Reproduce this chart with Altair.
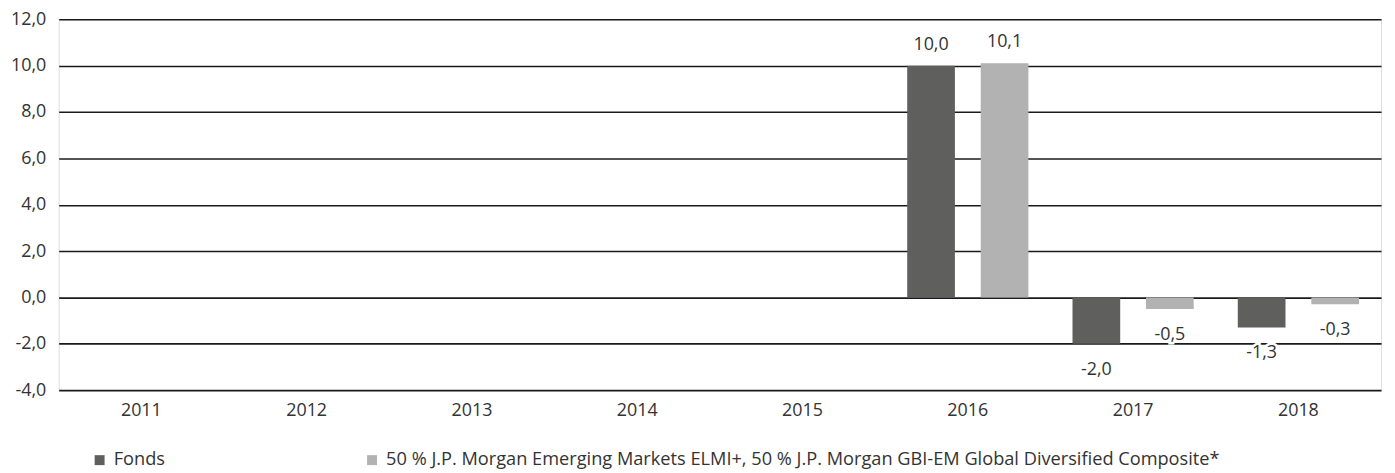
import altair as alt
import pandas as pd

years = ["2011", "2012", "2013", "2014", "2015", "2016", "2017", "2018"]
series = ["Fonds",
          "50 % J.P. Morgan Emerging Markets ELMI+, 50 % J.P. Morgan GBI-EM Global Diversified Composite*"]
data_years = ["2016", "2017", "2018"]
fonds = [10.0, -2.0, -1.3]
bench = [10.1, -0.5, -0.3]
colors = ["#5f5f5e", "#b2b2b2"]

rows = []
for y, f, b in zip(data_years, fonds, bench):
    rows.append({"Jahr": y, "Serie": series[0], "Wert": f})
    rows.append({"Jahr": y, "Serie": series[1], "Wert": b})
df = pd.DataFrame(rows)
df["Label"] = df["Wert"].map(lambda v: f"{v:.1f}".replace(".", ","))

FONT = "Open Sans"
FS = 18
TXT = "#333333"

x = alt.X("Jahr:N", scale=alt.Scale(domain=years, paddingInner=0, paddingOuter=0),
          axis=alt.Axis(title=None, labelAngle=0, ticks=False, domain=False, grid=False,
                        labelPadding=12, labelFontSize=FS, labelColor=TXT, labelFont=FONT))
xoff = alt.XOffset("Serie:N", scale=alt.Scale(domain=series, paddingInner=0.351, paddingOuter=0.3))
y = alt.Y("Wert:Q", scale=alt.Scale(domain=[-4, 12], nice=False, zero=False),
          axis=alt.Axis(title=None, values=[-4, -2, 0, 2, 4, 6, 8, 10, 12], ticks=False, domain=False,
                        grid=True, gridColor="#1a1a1a", gridWidth=1.6, labelPadding=13,
                        labelFontSize=FS, labelColor=TXT, labelFont=FONT,
                        labelExpr="replace(replace(format(datum.value, '.1f'), '.', ','), '\u2212', '-')"))

base = alt.Chart(df)

bars = base.mark_bar().encode(
    x=x, xOffset=xoff, y=y,
    color=alt.Color("Serie:N", scale=alt.Scale(domain=series, range=colors),
                    legend=alt.Legend(title=None, orient="none", legendX=32, legendY=434,
                                      direction="horizontal", symbolType="square", symbolSize=100,
                                      symbolStrokeWidth=0, labelFontSize=18.3, labelColor=TXT,
                                      labelFont=FONT, columnPadding=199, symbolOffset=0,
                                      labelOffset=5, labelLimit=1200, padding=0)),
)

pos_data = base.transform_filter("datum.Wert >= 0")
neg_data = base.transform_filter("datum.Wert < 0")

pos = pos_data.mark_text(dy=-21, fontSize=FS, color=TXT, font=FONT).encode(
    x=x, xOffset=xoff, y=y, text="Label:N")

neg_halo = neg_data.mark_text(dy=26, fontSize=FS, color="white", stroke="white",
                              strokeWidth=5, font=FONT).encode(
    x=x, xOffset=xoff, y=y, text="Label:N")
neg = neg_data.mark_text(dy=26, fontSize=FS, color=TXT, font=FONT).encode(
    x=x, xOffset=xoff, y=y, text="Label:N")

chart = alt.layer(bars, pos, neg_halo, neg).properties(
    width=1330, height=373,
    autosize=alt.AutoSizeParams(type="none"),
    padding={"left": 51, "top": 10, "right": 6, "bottom": 80},
).configure_view(stroke=None).configure(background="white")

chart.save("out.html", embed_options={"renderer": "svg", "actions": False})
